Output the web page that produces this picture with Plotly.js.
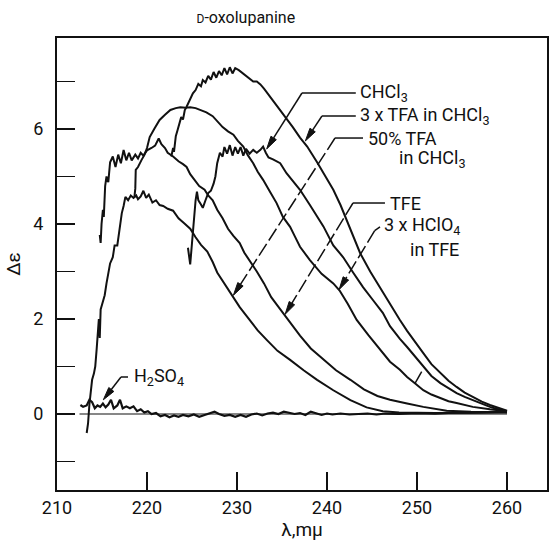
<!DOCTYPE html>
<html>
<head>
<meta charset="utf-8">
<script src="https://cdn.plot.ly/plotly-3.0.1.min.js"></script>
<style>html,body{margin:0;padding:0;background:#fff;}</style>
</head>
<body>
<div id="chart" style="width:550px;height:542px;"></div>
<script>
// ---- data: [wavelength (mμ), Δε] ----
const chcl3 = [[224.55,3.5],[224.8,3.15],[225.0,3.6],[225.2,4.1],[225.4,4.5],[225.55,4.68],[225.7,4.5],[225.9,4.44],[226.2,4.34],[226.5,4.5],[226.8,4.65],[227.1,4.7],[227.4,4.85],[227.6,5.0],[227.8,5.28],[228.1,5.5],[228.4,5.42],[228.6,5.62],[228.9,5.48],[229.2,5.66],[229.5,5.44],[229.8,5.62],[230.1,5.48],[230.4,5.62],[230.7,5.44],[231.0,5.58],[231.4,5.48],[231.8,5.56],[232.2,5.5],[232.6,5.56],[232.9,5.63],[233.2,5.5],[233.5,5.4],[234.0,5.36],[234.8,5.28],[235.5,5.07],[236.2,4.9],[237.0,4.72],[238.1,4.4],[239.0,4.12],[239.6,3.95],[240.7,3.55],[241.8,3.3],[242.9,2.98],[244.0,2.67],[245.1,2.4],[246.2,2.13],[247.0,1.85],[248.1,1.58],[248.9,1.41],[249.8,1.2],[250.7,0.99],[251.6,0.8],[252.6,0.65],[253.5,0.54],[254.4,0.44],[255.3,0.36],[256.2,0.29],[257.2,0.21],[258.1,0.15],[259.0,0.1],[260.0,0.06]];

const tfa3 = [[222.7,5.42],[222.9,5.6],[223.0,5.52],[223.2,5.85],[223.4,5.98],[223.6,6.1],[223.8,6.25],[224.0,6.2],[224.2,6.4],[224.4,6.47],[224.7,6.6],[225.1,6.75],[225.4,6.82],[225.7,6.95],[226.0,6.9],[226.2,7.03],[226.5,6.98],[226.8,7.12],[227.1,7.04],[227.4,7.2],[227.7,7.08],[228.0,7.22],[228.3,7.13],[228.6,7.28],[228.9,7.15],[229.2,7.3],[229.5,7.17],[229.8,7.28],[230.2,7.24],[230.6,7.18],[231.0,7.12],[231.4,7.07],[231.8,7.0],[232.2,7.0],[232.6,6.94],[233.0,6.85],[233.4,6.75],[233.7,6.68],[234.2,6.55],[234.8,6.4],[235.5,6.22],[236.2,6.04],[237.0,5.82],[237.8,5.63],[238.9,5.3],[239.8,5.0],[240.7,4.72],[241.5,4.4],[242.2,4.08],[243.0,3.72],[243.7,3.38],[244.8,3.0],[245.9,2.65],[247.0,2.3],[248.1,1.98],[248.9,1.75],[250.0,1.45],[250.7,1.28],[251.6,1.05],[252.6,0.86],[253.5,0.7],[254.4,0.57],[255.3,0.45],[256.2,0.36],[257.2,0.26],[258.1,0.19],[259.2,0.12],[260.0,0.07]];

const tfa50 = [[213.3,-0.4],[213.45,-0.2],[213.6,0.2],[213.75,0.5],[213.9,0.72],[214.1,0.85],[214.25,1.0],[214.4,1.35],[214.55,1.8],[214.65,2.0],[214.75,1.6],[214.85,2.2],[215.0,2.3],[215.3,2.5],[215.5,2.75],[215.7,3.0],[215.9,3.17],[216.2,3.3],[216.4,3.55],[216.7,3.55],[216.9,3.85],[217.2,4.23],[217.4,4.38],[217.6,4.57],[217.9,4.5],[218.2,4.6],[218.5,4.55],[218.8,4.6],[219.0,4.52],[219.3,4.58],[219.6,4.7],[219.9,4.55],[220.2,4.62],[220.6,4.45],[221.0,4.5],[221.4,4.4],[221.8,4.38],[222.3,4.32],[222.9,4.28],[223.5,4.12],[224.1,4.02],[224.8,3.9],[225.4,3.72],[226.0,3.56],[226.7,3.42],[227.3,3.2],[227.8,2.98],[228.5,2.78],[229.4,2.5],[230.3,2.25],[231.4,1.98],[232.3,1.76],[233.3,1.56],[234.5,1.33],[235.9,1.14],[237.4,0.92],[238.9,0.72],[240.7,0.5],[242.6,0.29],[244.4,0.14],[246.2,0.06],[248.0,0.03],[252.0,0.02],[256.0,0.03],[260.0,0.03]];

const tfe = [[214.75,3.77],[214.85,3.6],[214.95,4.0],[215.1,4.3],[215.2,4.15],[215.35,4.8],[215.5,5.0],[215.7,4.88],[215.9,5.3],[216.2,5.42],[216.5,5.2],[216.8,5.46],[217.1,5.28],[217.4,5.56],[217.7,5.34],[218.0,5.5],[218.3,5.34],[218.7,5.46],[219.0,5.38],[219.3,5.5],[219.6,5.44],[220.0,5.55],[220.5,5.6],[220.9,5.65],[221.3,5.8],[221.6,5.68],[222.0,5.6],[222.3,5.5],[222.9,5.42],[223.5,5.32],[224.0,5.26],[224.4,5.2],[224.8,5.05],[225.3,4.93],[225.8,4.8],[226.4,4.72],[226.8,4.6],[227.3,4.5],[227.8,4.3],[228.4,4.12],[229.0,3.9],[229.6,3.75],[230.3,3.6],[230.8,3.4],[231.4,3.24],[232.2,3.0],[233.0,2.75],[233.8,2.46],[234.5,2.28],[235.1,2.13],[236.0,1.9],[237.0,1.65],[238.2,1.38],[239.6,1.14],[241.0,0.92],[242.6,0.72],[244.1,0.52],[245.6,0.38],[247.0,0.3],[248.9,0.22],[250.7,0.15],[253.3,0.07],[256.0,0.05],[260.0,0.04]];

const hclo4 = [[218.6,4.56],[218.7,4.75],[218.75,5.14],[219.0,5.2],[219.4,5.35],[219.7,5.45],[220.0,5.6],[220.3,5.83],[220.8,6.0],[221.4,6.19],[222.0,6.3],[222.6,6.4],[223.2,6.44],[223.7,6.46],[224.3,6.45],[224.8,6.46],[225.4,6.44],[225.9,6.4],[226.6,6.35],[227.3,6.27],[227.9,6.15],[228.4,6.04],[229.0,5.95],[229.6,5.88],[230.1,5.75],[230.7,5.63],[231.2,5.45],[231.8,5.28],[232.3,5.1],[232.9,4.93],[233.6,4.7],[234.4,4.44],[235.1,4.15],[235.9,3.94],[236.4,3.75],[237.0,3.52],[238.1,3.24],[239.4,2.95],[240.7,2.75],[241.4,2.6],[242.3,2.32],[243.3,1.98],[244.6,1.66],[245.9,1.35],[247.0,1.1],[248.1,0.93],[248.9,0.78],[249.8,0.64],[250.7,0.5],[251.6,0.41],[252.6,0.33],[253.5,0.27],[254.4,0.23],[256.2,0.15],[258.1,0.1],[260.0,0.06]];

const h2so4 = [[212.6,0.19],[212.9,0.15],[213.3,0.18],[213.6,0.3],[213.9,0.25],[214.2,0.12],[214.5,0.18],[214.8,0.15],[215.1,0.22],[215.4,0.14],[215.7,0.2],[216.0,0.3],[216.3,0.12],[216.7,0.18],[217.0,0.3],[217.3,0.12],[217.7,0.16],[218.1,0.12],[218.5,0.16],[218.9,0.06],[219.3,0.1],[219.7,0.03],[220.1,0.06],[220.5,0.0],[221.0,0.02],[221.5,-0.05],[222.0,-0.02],[222.5,-0.07],[223.0,-0.03],[223.5,-0.06],[224.0,-0.02],[224.6,-0.05],[225.2,-0.01],[225.8,-0.06],[226.4,-0.02],[227.0,0.02],[227.5,0.05],[228.0,0.0],[228.6,-0.04],[229.2,-0.02],[229.8,-0.06],[230.4,-0.02],[231.0,-0.06],[231.6,-0.01],[232.2,0.01],[232.8,-0.03],[233.4,0.01],[234.0,0.03],[234.6,0.0],[235.2,0.05],[235.8,0.02],[236.4,0.0],[237.0,0.02],[237.6,-0.02],[238.2,0.05],[238.8,0.01],[239.4,-0.02],[240.0,0.01],[240.6,-0.01],[241.5,0.01],[242.5,-0.01],[243.5,0.0],[244.5,0.01],[245.5,-0.01],[246.5,0.01],[248.0,0.0],[250.0,0.02],[252.0,0.01],[254.0,0.03],[256.0,0.03],[258.0,0.05],[259.5,0.05],[260.0,0.04]];

const xTickVals = [210, 220, 230, 240, 250, 260];
const xTickText = ['210', '220', '230', '240', '250', '260'];
const yTickVals = [0, 2, 4, 6];
const yTickText = ['0', '2', '4', '6'];

// ---- plot ----
const ink = '#111';
function trace(d, name, w) {
  return {x: d.map(p => p[0]), y: d.map(p => p[1]), name: name, type: 'scatter', mode: 'lines',
          line: {color: ink, width: w || 2}, hoverinfo: 'x+y+name'};
}
const data = [
  trace(chcl3, 'CHCl3'), trace(tfa3, '3xTFA in CHCl3'), trace(tfa50, '50% TFA in CHCl3'),
  trace(tfe, 'TFE'), trace(hclo4, '3xHClO4 in TFE'), trace(h2so4, 'H2SO4', 2.2)
];

const W = 550, H = 542, M = {l: 57, r: 3, t: 38, b: 52};
const xr = [210, 210 + (W - M.l - M.r) / 9];
const yr = [-1.6, -1.6 + (H - M.t - M.b) / 47.5];
const pxX = (W - M.l - M.r) / (xr[1] - xr[0]);
const pxY = (H - M.t - M.b) / (yr[1] - yr[0]);

// leaders: label end, bend, tip (data coords)
const leaders = [
  {pts: [[243.2, 6.758], [237.22, 6.758]], tip: [233.3, 5.58], dash: 'solid'},
  {pts: [[243.2, 6.274], [239.44, 6.274]], tip: [237.6, 5.75], dash: 'solid'},
  {pts: [[244.0, 5.81], [240.89, 5.81]], tip: [229.6, 2.5], dash: '14px,4px'},
  {pts: [[246.44, 4.442], [242.89, 4.442]], tip: [235.35, 2.1], dash: '14px,4px'},
  {pts: [[245.89, 3.937], [245.3, 3.86]], tip: [241.35, 2.62], dash: '14px,4px'},
  {pts: [[217.89, 0.779], [217.11, 0.779]], tip: [215.15, 0.3], dash: 'solid'}
];
const shapes = [
  {type: 'line', xref: 'x', yref: 'y', x0: 212.5, x1: 260, y0: 0, y1: 0, line: {color: ink, width: 1.2}},
  {type: 'line', xref: 'x', yref: 'y', x0: 250.52, y0: 0.89, x1: 249.78, y1: 0.646, line: {color: ink, width: 1.5}}
];
const HEAD_LEN = 13, HEAD_HALF = 3.2;
leaders.forEach(L => {
  const a = L.pts[0], b = L.pts[1], t = L.tip;
  shapes.push({type: 'line', xref: 'x', yref: 'y', x0: a[0], y0: a[1], x1: b[0], y1: b[1], line: {color: ink, width: 1.5}});
  const dx = (b[0] - t[0]) * pxX, dy = -(b[1] - t[1]) * pxY;
  const n = Math.hypot(dx, dy), ux = dx / n, uy = dy / n;
  const base = [t[0] + ux * HEAD_LEN / pxX, t[1] - uy * HEAD_LEN / pxY];
  shapes.push({type: 'line', xref: 'x', yref: 'y', x0: b[0], y0: b[1], x1: base[0], y1: base[1],
    line: {color: ink, width: 1.5, dash: L.dash}});
  const px = -uy, py = ux;
  const p1 = [base[0] + px * HEAD_HALF / pxX, base[1] - py * HEAD_HALF / pxY];
  const p2 = [base[0] - px * HEAD_HALF / pxX, base[1] + py * HEAD_HALF / pxY];
  shapes.push({type: 'path', xref: 'x', yref: 'y',
    path: `M ${t[0]} ${t[1]} L ${p1[0]} ${p1[1]} L ${p2[0]} ${p2[1]} Z`,
    fillcolor: ink, line: {color: ink, width: 1}});
});

const labels = [
  {x: 243.44, y: 6.758, t: 'CHCl<sub>3</sub>'},
  {x: 243.44, y: 6.274, t: '3 x TFA in CHCl<sub>3</sub>'},
  {x: 244.33, y: 5.80, t: '50% TFA'},
  {x: 247.78, y: 5.36, t: 'in CHCl<sub>3</sub>'},
  {x: 246.78, y: 4.442, t: 'TFE'},
  {x: 246.11, y: 3.95, t: '3 x HClO<sub>4</sub>'},
  {x: 249.0, y: 3.47, t: 'in TFE'},
  {x: 218.33, y: 0.779, t: 'H<sub>2</sub>SO<sub>4</sub>'}
];
const annotations = labels.map(l => ({x: l.x, y: l.y, xref: 'x', yref: 'y', text: l.t, showarrow: false,
  xanchor: 'left', yanchor: 'middle', font: {size: 18, color: ink}}));

const layout = {
  width: W, height: H, margin: M, paper_bgcolor: '#fff', plot_bgcolor: '#fff', showlegend: false,
  font: {family: 'Roboto, "DejaVu Sans", sans-serif', color: ink},
  title: {text: '<span style="font-size:12px">D</span>-oxolupanine', font: {size: 16, color: ink},
          xref: 'container', yref: 'container', x: 0.447, y: 0.968, xanchor: 'center', yanchor: 'middle'},
  xaxis: {range: xr, tickvals: xTickVals, ticktext: xTickText, ticks: 'inside', ticklen: 18, tickwidth: 1.5,
          tickcolor: ink, showline: true, linewidth: 2, linecolor: ink, mirror: true, showgrid: false,
          zeroline: false, tickfont: {size: 18}, automargin: false,
          title: {text: 'λ,mμ', font: {size: 19}, standoff: 4}},
  yaxis: {range: yr, tickvals: yTickVals, ticktext: yTickText, ticks: 'inside', ticklen: 18, tickwidth: 1.5,
          tickcolor: ink, showline: true, linewidth: 2, linecolor: ink, mirror: true, showgrid: false,
          zeroline: false, tickfont: {size: 18}, automargin: false, ticklabelstandoff: 8,
          minor: {tickvals: [-1, 1, 3, 5, 7], ticks: 'inside', ticklen: 18, tickwidth: 1.5, tickcolor: ink, showgrid: false},
          title: {text: 'Δε', font: {size: 19}, standoff: 8}},
  shapes: shapes,
  annotations: annotations
};
Plotly.newPlot('chart', data, layout, {displayModeBar: false, staticPlot: true});
</script>
</body>
</html>
